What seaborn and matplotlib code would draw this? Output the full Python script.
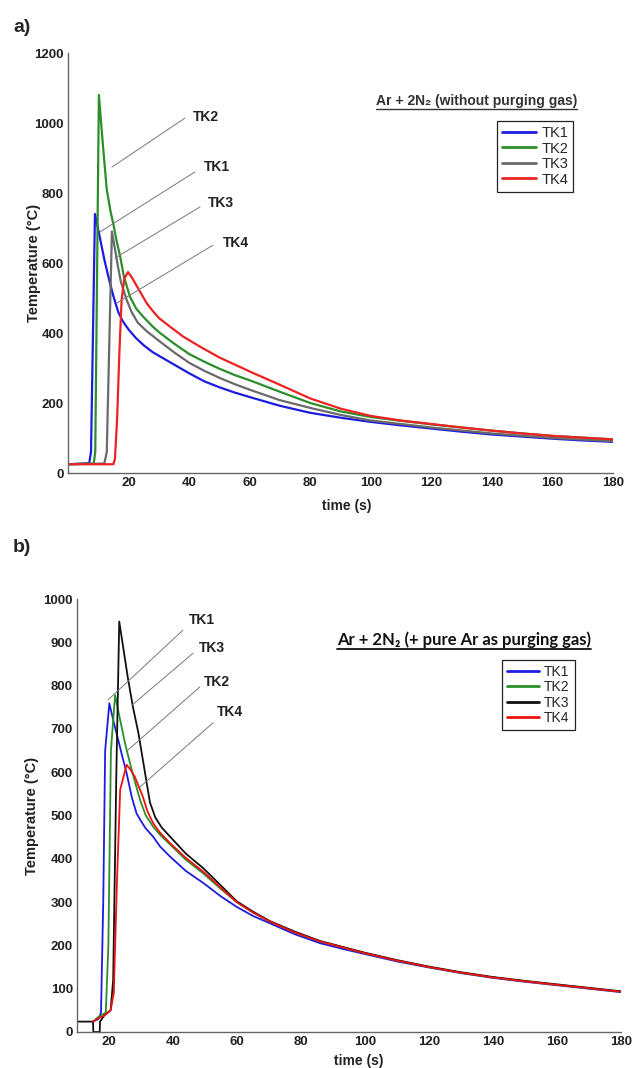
import numpy as np
import pandas as pd
import matplotlib
matplotlib.use('Agg')
import matplotlib.pyplot as plt
from matplotlib.lines import Line2D
import seaborn as sns

# ---- panel a: Ar + 2N2 (without purging gas) ----
a_tk1_t = [0, 7.0, 7.6, 8.9, 10.5, 12, 13.5, 15, 16.6, 18, 20, 22.5, 25, 28, 32, 36, 40, 45, 50, 55, 60,
           70, 80, 90, 100, 110, 120, 130, 140, 150, 160, 170, 180]
a_tk1_T = [25, 28, 60, 740, 674, 610, 555, 505, 460, 435, 410, 385, 365, 345, 325, 305, 285, 262, 245, 230, 217,
           192, 172, 158, 146, 136, 127, 118, 110, 104, 98, 93, 89]
a_tk2_t = [0, 8.5, 9.0, 10.2, 11.5, 12.8, 14, 15, 16, 17.2, 18.5, 20.5, 22.5, 25, 28, 30.4, 35, 40, 45, 50, 55,
           60, 70, 80, 90, 100, 110, 120, 130, 140, 150, 160, 170, 180]
a_tk2_T = [25, 27, 60, 1080, 940, 810, 750, 710, 665, 620, 560, 503, 470, 445, 418, 400, 370, 340, 318, 298, 280,
           265, 232, 200, 176, 160, 149, 139, 130, 121, 113, 106, 101, 96]
a_tk3_t = [0, 12.0, 12.8, 14.5, 15.5, 16.5, 17.5, 19.4, 21, 23, 26, 30, 35, 40, 45, 50, 55, 60, 70, 80, 90,
           100, 120, 140, 160, 180]
a_tk3_T = [25, 27, 60, 690, 640, 590, 545, 494, 460, 430, 405, 378, 345, 315, 292, 272, 254, 238, 208, 186, 166,
           150, 130, 113, 100, 91]
a_tk4_t = [0, 15.0, 15.5, 16.2, 17.0, 17.7, 18.6, 19.8, 21, 22, 24, 26, 28, 30, 33.7, 38, 43.6, 50, 56.8, 60,
           70, 80, 90, 100, 110, 120, 130, 140, 150, 160, 170, 180]
a_tk4_T = [25, 25, 40, 150, 350, 494, 555, 574, 560, 545, 515, 485, 463, 443, 418, 390, 361, 330, 303, 290,
           252, 213, 184, 163, 150, 140, 130, 121, 113, 106, 101, 96]

# ---- panel b: Ar + 2N2 (+ pure Ar as purging gas) ----
b_tk1_t = [15, 16.7, 17.5, 18.2, 18.8, 20.1, 21.5, 22.9, 24.2, 25.5, 27.1, 28.6, 30, 31.5, 33.8, 36, 39.1, 44,
           49.5, 55, 59.9, 65, 70.3, 78, 86, 93, 100, 110, 120, 130, 140, 150, 160, 170, 180]
b_tk1_T = [24, 30, 45, 300, 650, 759, 715, 674, 635, 598, 543, 505, 487, 470, 451, 428, 405, 372,
           344, 313, 289, 268, 251, 226, 205, 192, 180, 163, 149, 136, 125, 116, 108, 100, 92]
b_tk2_t = [15, 16.7, 19.0, 19.8, 20.6, 21.9, 23.5, 25, 27.1, 29.7, 31.5, 33.8, 36, 39.1, 44, 49.5, 55, 59.9,
           65, 70.3, 78, 86, 100, 110, 120, 130, 140, 150, 160, 170, 180]
b_tk2_T = [24, 35, 45, 200, 650, 778, 720, 667, 605, 536, 500, 474, 455, 433, 398, 366, 330, 300,
           276, 255, 230, 209, 182, 165, 150, 137, 126, 117, 109, 101, 93]
b_tk3_t = [10, 15.0, 15.1, 17.1, 17.2, 18.5, 20.5, 21.3, 22.3, 23.2, 24.5, 26, 27.5, 29.2, 31, 32.8, 34.5,
           36.5, 39.1, 44, 49.5, 55, 59.9, 65, 70.3, 78, 86, 100, 110, 120, 130, 140, 150, 160, 170, 180]
b_tk3_T = [24, 24, 0, 0, 24, 38, 50, 120, 600, 948, 885, 813, 750, 690, 610, 530, 495,
           472, 451, 412, 378, 338, 302, 278, 256, 232, 210, 183, 166, 151, 138, 127, 118, 110, 102, 94]
b_tk4_t = [15, 16.7, 18.5, 20.5, 21.5, 22.5, 23.5, 25.5, 26.8, 28.1, 30.6, 32, 33.8, 36, 39.1, 44, 49.5, 55,
           59.9, 65, 70.3, 78, 86, 100, 110, 120, 130, 140, 150, 160, 170, 180]
b_tk4_T = [24, 32, 38, 50, 90, 350, 560, 617, 605, 589, 543, 510, 482, 460, 436, 402, 370, 333,
           300, 276, 255, 230, 209, 182, 165, 150, 137, 126, 117, 109, 101, 93]

sensors = ['TK1', 'TK2', 'TK3', 'TK4']
colors_a = ['#1c1ce0', '#2a8f2a', '#6a6a6a', '#ee2222']
colors_b = ['#1c1ce0', '#2a8f2a', '#111111', '#ee1111']

# leader-line labels: (label, text x, text y, line from x, y, line to x, y)
notes_a = [('TK2', 41.1, 1017, 38.6, 1014, 14.5, 874),
           ('TK1', 44.9, 874, 41.9, 860, 10.6, 689),
           ('TK3', 46.3, 771, 43.6, 760, 15.5, 614),
           ('TK4', 51.0, 657, 47.9, 651, 16.2, 486)]
notes_b = [('TK1', 45.0, 951, 43.1, 928, 19.7, 767),
           ('TK3', 48.1, 887, 46.3, 875, 27.2, 755),
           ('TK2', 49.7, 808, 48.4, 797, 25.9, 651),
           ('TK4', 53.8, 739, 52.5, 714, 29.7, 566)]

sns.set_style('white')
plt.rcParams['font.family'] = ['Liberation Sans', 'DejaVu Sans']

fig = plt.figure(figsize=(6.36, 10.68), dpi=100)
ax_a = fig.add_axes([68 / 636, 1 - 473 / 1068, 545 / 636, 420 / 1068])
ax_b = fig.add_axes([77 / 636, 1 - 1032 / 1068, 544 / 636, 433 / 1068])


def draw_panel(ax, series, colors, lw, notes, xlim, ylim, yticks):
    for name, (t, T), c in zip(sensors, series, colors):
        df = pd.DataFrame({'time': t, 'temp': T})
        sns.lineplot(data=df, x='time', y='temp', color=c, lw=lw,
                     estimator=None, sort=False, label=name, ax=ax)
    for lab, tx, ty, x0, y0, x1, y1 in notes:
        ax.plot([x0, x1], [y0, y1], color='#777777', lw=0.7)
        ax.text(tx, ty, lab, fontsize=10, fontweight='bold', color='#222222',
                ha='left', va='center')
    ax.set_xlim(*xlim)
    ax.set_ylim(*ylim)
    ax.set_xticks(range(20, 181, 20))
    ax.set_yticks(yticks)
    for s in ['top', 'right']:
        ax.spines[s].set_visible(False)
    for s in ['left', 'bottom']:
        ax.spines[s].set_color('#666666')
        ax.spines[s].set_linewidth(1.0)
    ax.tick_params(direction='in', length=4, width=0.8, color='#666666',
                   labelsize=9.5, labelcolor='#222222', pad=3)
    for lbl in ax.get_xticklabels() + ax.get_yticklabels():
        lbl.set_fontweight('bold')
    ax.set_xlabel('time (s)', fontsize=10, fontweight='bold', color='#222222')
    ax.set_ylabel('Temperature (\u00b0C)', fontsize=10.5, fontweight='bold',
                  color='#222222')


draw_panel(ax_a, [(a_tk1_t, a_tk1_T), (a_tk2_t, a_tk2_T), (a_tk3_t, a_tk3_T), (a_tk4_t, a_tk4_T)],
           colors_a, 1.6, notes_a, (0, 180), (0, 1200), range(0, 1201, 200))
draw_panel(ax_b, [(b_tk1_t, b_tk1_T), (b_tk2_t, b_tk2_T), (b_tk3_t, b_tk3_T), (b_tk4_t, b_tk4_T)],
           colors_b, 1.3, notes_b, (10, 180), (0, 1000), range(0, 1001, 100))

ax_a.xaxis.set_label_coords(0.512, -0.062)
ax_b.xaxis.set_label_coords(0.518, -0.051)
ax_a.yaxis.set_label_coords(-0.05, 0.5)
ax_b.yaxis.set_label_coords(-0.07, 0.5)

leg_kw = dict(frameon=True, fancybox=False, edgecolor='#222222', framealpha=1,
              labelspacing=0.1, handlelength=2.3, handletextpad=0.4,
              borderpad=0.35, borderaxespad=0, loc='upper left')
leg_a = ax_a.legend(bbox_to_anchor=(0.787, 0.838), fontsize=10.5, **leg_kw)
leg_b = ax_b.legend(bbox_to_anchor=(0.781, 0.859), fontsize=10, **leg_kw)
for leg in (leg_a, leg_b):
    leg.get_frame().set_linewidth(0.9)
    for line in leg.get_lines():
        line.set_linewidth(2.0)

title_a = ax_a.text(0.749, 0.869, 'Ar + 2N\u2082 (without purging gas)', transform=ax_a.transAxes,
                    ha='center', va='bottom', fontsize=10, fontweight='bold', color='#333333')
title_b = ax_b.text(0.712, 0.887, 'Ar + 2N\u2082 (+ pure Ar as purging gas)', transform=ax_b.transAxes,
                    ha='center', va='bottom', fontsize=12, fontweight='bold', color='#111111',
                    family=['Lato', 'DejaVu Sans'])

fig.text(13 / 636, 1 - 27 / 1068, 'a)', fontsize=14, fontweight='bold', va='center')
fig.text(13 / 636, 1 - 548 / 1068, 'b)', fontsize=14, fontweight='bold', va='center')

# underline the two panel titles
fig.canvas.draw()
inv = fig.transFigure.inverted()
for txt, lw, col in [(title_a, 1.0, '#333333'), (title_b, 1.3, '#111111')]:
    bb = txt.get_window_extent().transformed(inv)
    fig.add_artist(Line2D([bb.x0, bb.x1], [bb.y0 - 0.001, bb.y0 - 0.001], color=col, lw=lw,
                          transform=fig.transFigure))

fig.savefig('out.png', dpi=100)
